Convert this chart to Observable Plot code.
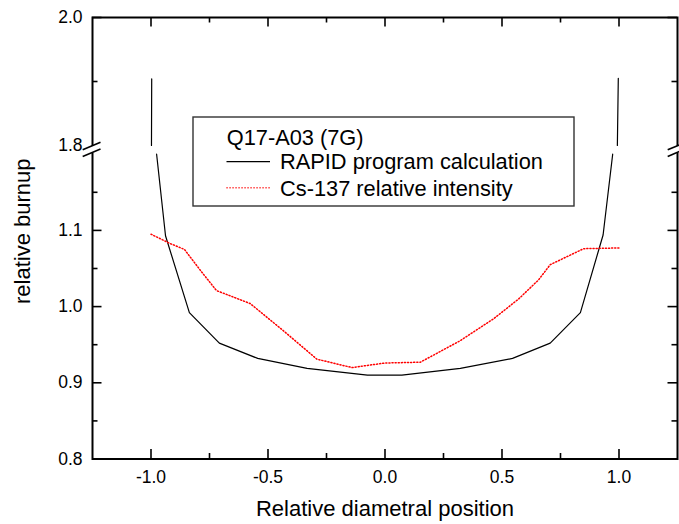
<!DOCTYPE html>
<html>
<head>
<meta charset="utf-8">
<script src="https://cdn.jsdelivr.net/npm/d3@7"></script>
<script src="https://cdn.jsdelivr.net/npm/@observablehq/plot@0.6"></script>
<style>
  html, body { margin: 0; padding: 0; background: #fff; }
  #wrap { position: relative; width: 679px; height: 524px; font-family: "Liberation Sans", Arial, Helvetica, sans-serif; }
</style>
</head>
<body>
<div id="wrap"></div>
<script>
// ---- data ----
const rapidX = [-0.997, -0.998, -0.976, -0.938, -0.836, -0.708, -0.544, -0.333, -0.075, 0.072, 0.322, 0.545, 0.706, 0.835, 0.932, 0.973, 0.993, 0.997];
const rapidY = [1.904, 1.800, 1.200, 1.093, 0.992, 0.952, 0.932, 0.919, 0.910, 0.910, 0.919, 0.932, 0.952, 0.992, 1.094, 1.200, 1.800, 1.905];

const csX = [-1.0, -0.92, -0.857, -0.785, -0.72, -0.576, -0.433, -0.291, -0.141, 0.0, 0.151, 0.32, 0.464, 0.571, 0.656, 0.706, 0.849, 1.0];
const csY = [1.095, 1.083, 1.075, 1.046, 1.021, 1.004, 0.968, 0.931, 0.920, 0.926, 0.927, 0.955, 0.984, 1.010, 1.035, 1.055, 1.076, 1.077];

const xDomain = [-1.25, 1.25];
const xMajor = [-1, -0.5, 0, 0.5, 1];
const xMinor = [-0.75, -0.25, 0.25, 0.75];
const xTickLabels = ["-1.0", "-0.5", "0.0", "0.5", "1.0"];

const yMajor = [0.8, 0.9, 1.0, 1.1, 1.8, 2.0];
const yMinor = [0.85, 0.95, 1.05, 1.15, 1.9];
const yTickLabels = ["0.8", "0.9", "1.0", "1.1", "1.8", "2.0"];

const xTitle = "Relative diametral position";
const yTitle = "relative burnup";
const legendTitle = "Q17-A03 (7G)";
const seriesNames = ["RAPID program calculation", "Cs-137 relative intensity"];
const seriesColors = ["#000000", "#ff0000"];

// ---- broken y axis: lower part 0.8–1.2, upper part 1.8–2.0 ----
const LOWER_MIN = 0.8, LOWER_TOP = 1.2, UPPER_BOTTOM = 1.8, UPPER_MAX = 2.0;
const BREAK_GAP = 0.0114, UPPER_RATIO = 0.84;
const ty = v => v <= LOWER_TOP + 1e-9 ? v : LOWER_TOP + BREAK_GAP + (v - UPPER_BOTTOM) * UPPER_RATIO;

const rapid = rapidX.map((x, i) => ({x, y: rapidY[i], seg: rapidY[i] >= UPPER_BOTTOM ? (x < 0 ? "upperLeft" : "upperRight") : "lower"}));
const cs = csX.map((x, i) => ({x, y: csY[i]}));

const MAJ = 9.5, MIN = 5.5;
const yTickVals = yMajor.filter(v => v !== UPPER_BOTTOM);
const FONT = "'Liberation Sans', Arial, Helvetica, sans-serif";

const breakMark = (index, scales) => {
  const g = d3.create("svg:g");
  const yc = (scales.y(ty(LOWER_TOP)) + scales.y(ty(UPPER_BOTTOM))) / 2;
  for (const edge of xDomain) {
    const px = scales.x(edge);
    g.append("line").attr("x1", px).attr("x2", px).attr("y1", yc - 3.4).attr("y2", yc + 3.4)
      .attr("stroke", "#fff").attr("stroke-width", 4);
    for (const o of [-3.35, 3.35]) {
      g.append("line").attr("x1", px - 9.3).attr("y1", yc + o + 3.7).attr("x2", px + 8.5).attr("y2", yc + o - 3.7)
        .attr("stroke", "#000").attr("stroke-width", 1.6);
    }
  }
  return g.node();
};

const chart = Plot.plot({
  width: 679,
  height: 524,
  marginLeft: 92,
  marginRight: 2,
  marginTop: 17,
  marginBottom: 65.5,
  x: {domain: xDomain, axis: null},
  y: {domain: [ty(LOWER_MIN), ty(UPPER_MAX)], axis: null},
  style: {fontFamily: FONT, background: "#fff", color: "#000"},
  marks: [
    Plot.frame({stroke: "#000", strokeWidth: 2}),
    // bottom ticks (inward)
    Plot.ruleX(xMajor, {x: d => d, y1: () => ty(LOWER_MIN), y2: () => ty(LOWER_MIN), insetBottom: MAJ, strokeWidth: 1.6}),
    Plot.ruleX(xMinor, {x: d => d, y1: () => ty(LOWER_MIN), y2: () => ty(LOWER_MIN), insetBottom: MIN, strokeWidth: 1.6}),
    // top ticks (inward)
    Plot.ruleX(xMajor, {x: d => d, y1: () => ty(UPPER_MAX), y2: () => ty(UPPER_MAX), insetTop: MAJ, strokeWidth: 1.6}),
    Plot.ruleX(xMinor, {x: d => d, y1: () => ty(UPPER_MAX), y2: () => ty(UPPER_MAX), insetTop: MIN, strokeWidth: 1.6}),
    // left ticks (inward)
    Plot.ruleY(yTickVals, {y: d => ty(d), x1: () => xDomain[0], x2: () => xDomain[0], insetLeft: MAJ, strokeWidth: 1.6}),
    Plot.ruleY(yMinor, {y: d => ty(d), x1: () => xDomain[0], x2: () => xDomain[0], insetLeft: MIN, strokeWidth: 1.6}),
    // right ticks (inward)
    Plot.ruleY(yTickVals, {y: d => ty(d), x1: () => xDomain[1], x2: () => xDomain[1], insetRight: MAJ, strokeWidth: 1.6}),
    Plot.ruleY(yMinor, {y: d => ty(d), x1: () => xDomain[1], x2: () => xDomain[1], insetRight: MIN, strokeWidth: 1.6}),
    // tick labels
    Plot.text(xMajor, {x: d => d, text: (d, i) => xTickLabels[i], frameAnchor: "bottom", lineAnchor: "middle", textAnchor: "middle", dy: 18, fontSize: 17.5, fill: "#000"}),
    Plot.text(yMajor, {y: d => ty(d), text: (d, i) => yTickLabels[i], frameAnchor: "left", lineAnchor: "middle", dx: -10, textAnchor: "end", fontSize: 17.5, fill: "#000"}),
    // axis titles
    Plot.text([xTitle], {text: d => d, frameAnchor: "bottom", lineAnchor: "middle", textAnchor: "middle", dy: 49.5, fontSize: 22, fill: "#000"}),
    Plot.text([yTitle], {text: d => d, frameAnchor: "left", lineAnchor: "middle", textAnchor: "middle", dx: -70, dy: -7, rotate: -90, fontSize: 22, fill: "#000"}),
    // series
    Plot.line(rapid, {x: "x", y: d => ty(d.y), z: "seg", stroke: seriesColors[0], strokeWidth: 1.2}),
    Plot.line(cs, {x: "x", y: d => ty(d.y), stroke: seriesColors[1], strokeWidth: 1.5, strokeDasharray: "1.1,2"}),
    breakMark
  ]
});

const wrap = document.getElementById("wrap");
wrap.appendChild(chart);

// legend box inside the plot area
const leg = d3.select(wrap).append("svg")
  .attr("width", 384).attr("height", 92)
  .style("position", "absolute").style("left", "192px").style("top", "116px")
  .style("font-family", FONT);
leg.append("rect").attr("x", 1).attr("y", 1).attr("width", 381).attr("height", 89)
  .attr("fill", "#fff").attr("stroke", "#333").attr("stroke-width", 1.4);
leg.append("text").attr("x", 34.7).attr("y", 29).attr("font-size", 21.8).text(legendTitle);
const rows = [{y: 45.7, base: 53.3, dash: null}, {y: 71.7, base: 79.7, dash: "1.1,1.9"}];
rows.forEach((r, i) => {
  const l = leg.append("line").attr("x1", 34.5).attr("x2", 78).attr("y1", r.y).attr("y2", r.y)
    .attr("stroke", seriesColors[i]).attr("stroke-width", i ? 1.4 : 1.2);
  if (r.dash) l.attr("stroke-dasharray", r.dash);
  leg.append("text").attr("x", 88).attr("y", r.base).attr("font-size", 21.8).text(seriesNames[i]);
});
</script>
</body>
</html>
